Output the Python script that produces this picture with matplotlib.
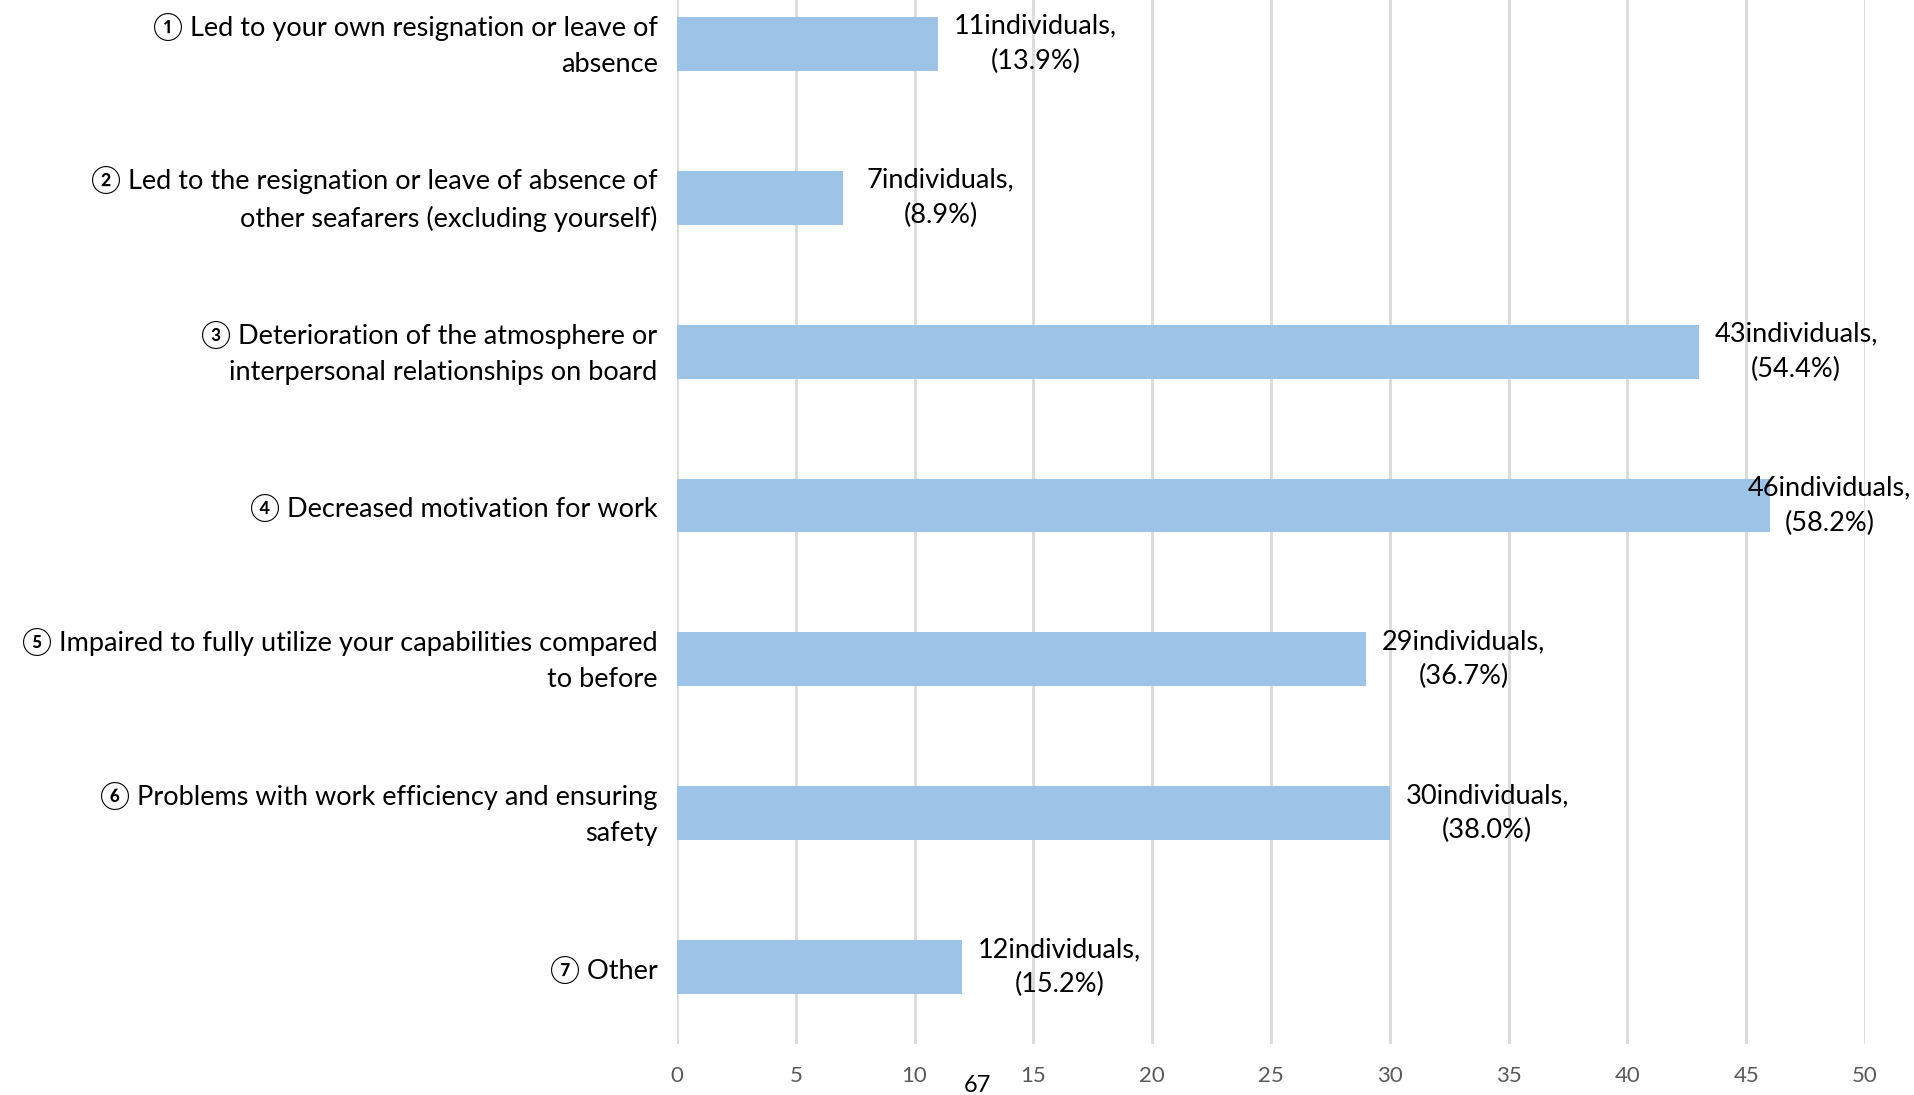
import matplotlib
matplotlib.use('Agg')
import matplotlib.pyplot as plt
import matplotlib.transforms as mtransforms

# Data
categories = [
    '① Led to your own resignation or leave of\nabsence',
    '② Led to the resignation or leave of absence of\nother seafarers (excluding yourself)',
    '③ Deterioration of the atmosphere or\ninterpersonal relationships on board',
    '④ Decreased motivation for work',
    '⑤ Impaired to fully utilize your capabilities compared\nto before',
    '⑥ Problems with work efficiency and ensuring\nsafety',
    '⑦ Other',
]
counts = [11, 7, 43, 46, 29, 30, 12]
percents = [13.9, 8.9, 54.4, 58.2, 36.7, 38.0, 15.2]
xticks = [0, 5, 10, 15, 20, 25, 30, 35, 40, 45, 50]
stray_label = '67'

plt.rcParams['font.family'] = ['Lato', 'Noto Sans CJK JP', 'DejaVu Sans']

fig = plt.figure(figsize=(19.15, 10.95), dpi=100)
ax = fig.add_axes([0.3535, 0.0466, 0.6204, 0.9534])

ypos = list(range(len(categories)))
ax.barh(ypos, counts, height=0.35, color='#9dc3e6', zorder=2)

ax.set_xlim(0, 50)
ax.set_ylim(6.5, -0.285)
ax.set_xticks(xticks)
ax.xaxis.grid(True, color='#d9d9d9', linewidth=2, zorder=0)
ax.tick_params(axis='x', length=0, pad=16, labelsize=16, labelcolor='#595959')
ax.tick_params(axis='y', length=0, pad=14, labelsize=19.5)
ax.set_yticks(ypos)
ax.set_yticklabels(categories, ha='right', linespacing=1.55)
# nudge two-line category labels up a little
shift = mtransforms.ScaledTranslation(0, 0.07, fig.dpi_scale_trans)
for lbl in ax.get_yticklabels():
    if '\n' in lbl.get_text():
        lbl.set_transform(lbl.get_transform() + shift)
for s in ax.spines.values():
    s.set_visible(False)

# data labels
for y, c, p in zip(ypos, counts, percents):
    x = min(c + 4.1, 48.5)
    ax.text(x, y, f'{c}individuals,\n({p:.1f}%)', ha='center', va='center',
            fontsize=19.5, linespacing=1.5, zorder=3)

fig.text(977 / 1915, 1 - 1086 / 1095, stray_label, ha='center', va='center', fontsize=17)

fig.savefig('out.png', dpi=100)
